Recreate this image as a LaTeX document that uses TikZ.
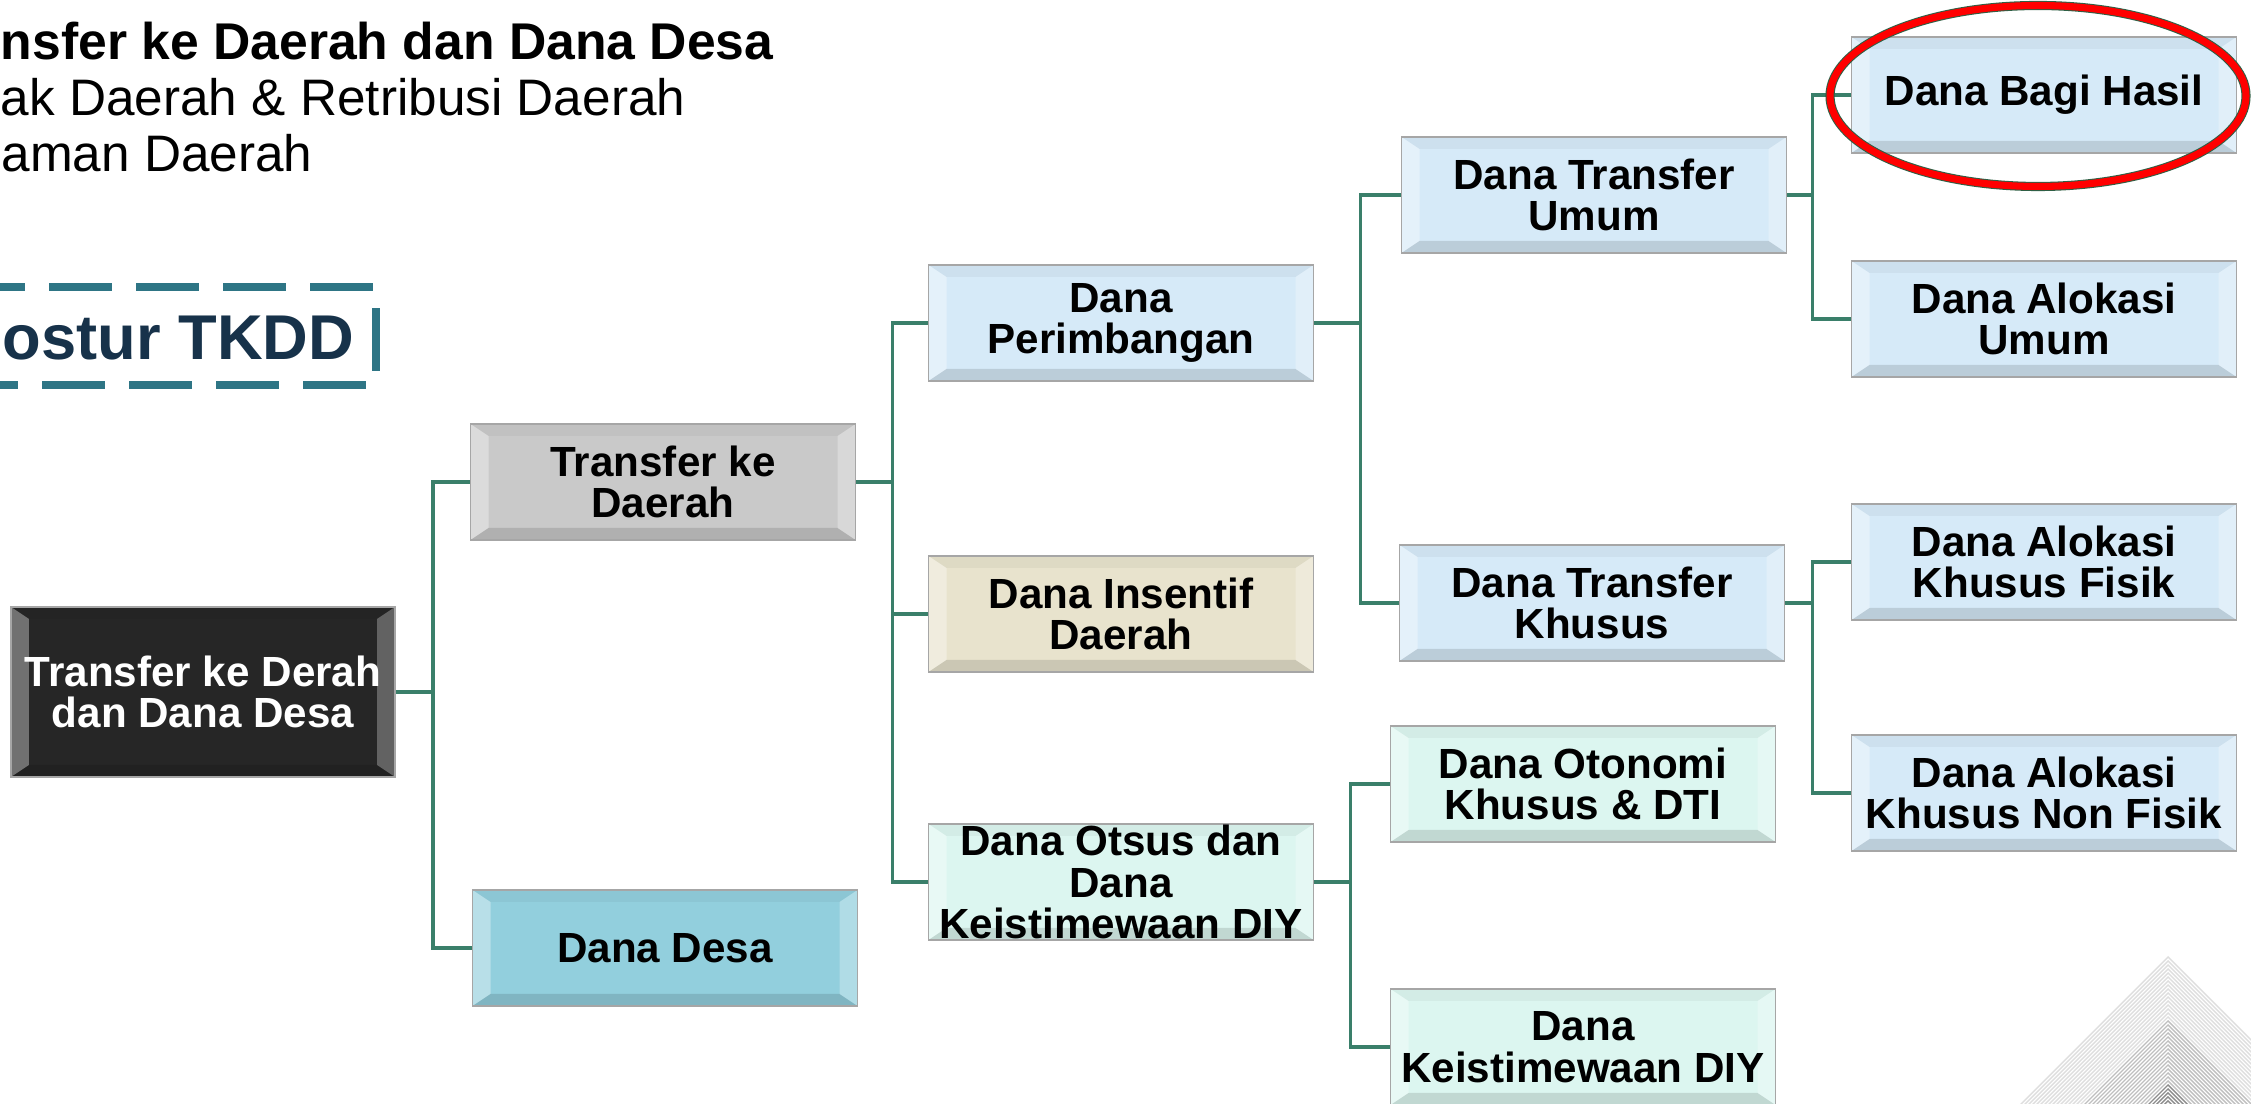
\documentclass[tikz,border=0pt]{standalone}
\usepackage{fontspec}
\setmainfont{Liberation Sans}
\definecolor{linkgreen}{HTML}{3A7F6A}
\definecolor{rootblack}{HTML}{262626}
\definecolor{tkdgray}{HTML}{C9C9C9}
\definecolor{desateal}{HTML}{92CFDD}
\definecolor{paleblue}{HTML}{D6EAF8}
\definecolor{palebeige}{HTML}{E8E3CD}
\definecolor{palemint}{HTML}{DCF6F0}
\definecolor{posturteal}{HTML}{2E7585}
\definecolor{posturnavy}{HTML}{17324A}
\definecolor{ringred}{HTML}{FF0000}
\definecolor{ringgreen}{HTML}{2F5F45}
\newcommand{\bevx}{0.18cm}
\newcommand{\bevy}{0.12cm}
\newcommand{\bevelbox}{%
  \fill[white, opacity=.35] (path picture bounding box.south west)
    -- (path picture bounding box.north west)
    -- ([shift={(\bevx,-\bevy)}]path picture bounding box.north west)
    -- ([shift={(\bevx,\bevy)}]path picture bounding box.south west) -- cycle;
  \fill[white, opacity=.28] (path picture bounding box.north east)
    -- (path picture bounding box.south east)
    -- ([shift={(-\bevx,\bevy)}]path picture bounding box.south east)
    -- ([shift={(-\bevx,-\bevy)}]path picture bounding box.north east) -- cycle;
  \fill[black, opacity=.04] (path picture bounding box.north west)
    -- (path picture bounding box.north east)
    -- ([shift={(-\bevx,-\bevy)}]path picture bounding box.north east)
    -- ([shift={(\bevx,-\bevy)}]path picture bounding box.north west) -- cycle;
  \fill[black, opacity=.12] (path picture bounding box.south west)
    -- (path picture bounding box.south east)
    -- ([shift={(-\bevx,\bevy)}]path picture bounding box.south east)
    -- ([shift={(\bevx,\bevy)}]path picture bounding box.south west) -- cycle;}

\begin{document}
\begin{tikzpicture}
      [box/.style={draw=black!35, line width=0.5pt, minimum width=3.85cm,
        minimum height=1.16cm, inner sep=0pt, align=center,
        font=\bfseries\fontsize{12}{11.8}\selectfont, path picture={\bevelbox}},
      link/.style={draw=linkgreen, line width=1pt},
      chevron/.style={line width=0.4pt}]
      \useasboundingbox (0,0) rectangle (22.51,-11.04);

      % heading lines, as far as they show
      \node[anchor=base east, inner sep=0pt, font=\bfseries\fontsize{14.7}{16}\selectfont]
        (title) at (7.74,-0.60) {nsfer ke Daerah dan Dana Desa};
      \node[anchor=base east, inner sep=0pt, font=\fontsize{14.6}{18}\selectfont]
        (pajak) at (6.86,-1.16) {ak Daerah \& Retribusi Daerah};
      \node[anchor=base west, inner sep=0pt, font=\fontsize{14.6}{18}\selectfont]
        (pinjaman) at (0.01,-1.72) {aman Daerah};
      \node[draw=posturteal, line width=2pt, dash pattern=on 0.63cm off 0.24cm,
        dash phase=0.04cm, minimum width=5.04cm, minimum height=0.98cm, inner sep=0pt]
        (postur) at (1.24,-3.36) {};
      \node[anchor=base west, inner sep=0pt, text=posturnavy,
        font=\bfseries\fontsize{18}{20}\selectfont]
        (posturtext) at (0.02,-3.60) {ostur TKDD};

      % the tree
      \node[box, fill=rootblack, text=white, minimum width=3.84cm, minimum height=1.70cm]
        (root) at (2.03,-6.92) {Transfer ke Derah\\dan Dana Desa};
      \node[box, fill=tkdgray] (tkd) at (6.63,-4.82) {Transfer ke\\Daerah};
      \node[box, fill=desateal] (desa) at (6.65,-9.48) {Dana Desa};
      \node[box, fill=paleblue] (perimbangan) at (11.21,-3.23) {Dana\\Perimbangan};
      \node[box, fill=palebeige] (insentif) at (11.21,-6.14) {Dana Insentif\\Daerah};
      \node[box, fill=palemint] (otsus) at (11.21,-8.82) {Dana Otsus dan\\Dana\\Keistimewaan DIY};
      \node[box, fill=paleblue] (dtu) at (15.94,-1.95) {Dana Transfer\\Umum};
      \node[box, fill=paleblue] (dtk) at (15.92,-6.03) {Dana Transfer\\Khusus};
      \node[box, fill=palemint] (otonomi) at (15.83,-7.84) {Dana Otonomi\\Khusus \& DTI};
      \node[box, fill=palemint] (keistimewaan) at (15.83,-10.47) {Dana\\Keistimewaan DIY};
      \node[box, fill=paleblue] (dbh) at (20.44,-0.95) {Dana Bagi Hasil};
      \node[box, fill=paleblue] (dau) at (20.44,-3.19) {Dana Alokasi\\Umum};
      \node[box, fill=paleblue] (dakfisik) at (20.44,-5.62) {Dana Alokasi\\Khusus Fisik};
      \node[box, fill=paleblue] (daknonfisik) at (20.44,-7.93) {Dana Alokasi\\Khusus Non Fisik};

      \foreach \kid in {tkd,desa}
        \draw[link] (root.east) -- ++(0.37,0) |- (\kid.west);
      \foreach \kid in {perimbangan,insentif,otsus}
        \draw[link] (tkd.east) -- ++(0.36,0) |- (\kid.west);
      \foreach \kid in {dtu,dtk}
        \draw[link] (perimbangan.east) -- ++(0.46,0) |- (\kid.west);
      \foreach \kid in {otonomi,keistimewaan}
        \draw[link] (otsus.east) -- ++(0.36,0) |- (\kid.west);
      \foreach \kid in {dbh,dau}
        \draw[link] (dtu.east) -- ++(0.25,0) |- (\kid.west);
      \foreach \kid in {dakfisik,daknonfisik}
        \draw[link] (dtk.east) -- ++(0.27,0) |- (\kid.west);

      % ring round Dana Bagi Hasil
      \coordinate (ringc) at ([shift={(-0.06,-0.01)}]dbh.center);
      \draw[ringgreen, line width=2.6pt] (ringc) ellipse [x radius=2.08, y radius=0.905];
      \draw[ringred, line width=2pt] (ringc) ellipse [x radius=2.08, y radius=0.905];

      % striped triangles, bottom right
      \foreach \k in {0,...,37}{
        \pgfmathsetmacro{\ya}{-9.57-0.04*\k}
        \pgfmathsetmacro{\arm}{11.10+\ya}
        \pgfmathtruncatemacro{\shade}{\k<16 ? 13 : (\k<32 ? 25 : 45)}
        \draw[chevron, black!\shade] (21.68-\arm,\ya-\arm) -- (21.68,\ya) -- (21.68+\arm,\ya-\arm);
      }
    \end{tikzpicture}
\end{document}
